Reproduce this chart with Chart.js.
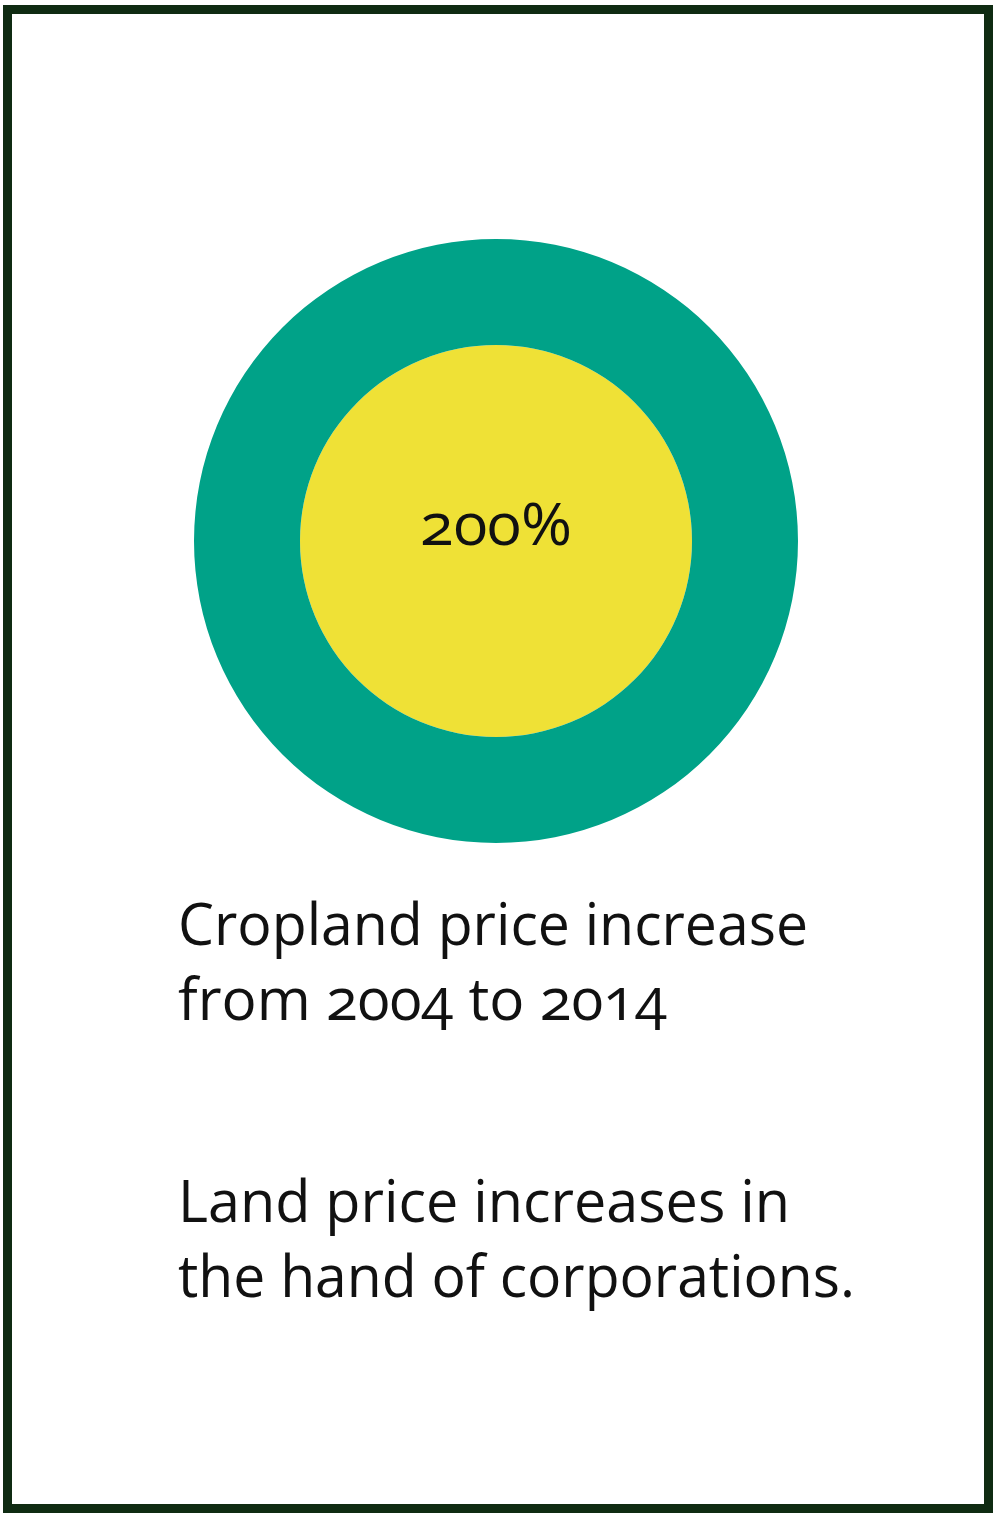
<!DOCTYPE html>
<html>
<head>
<meta charset="utf-8">
<script src="https://cdn.jsdelivr.net/npm/chart.js@4.4.1/dist/chart.umd.min.js"></script>
<style>
  html, body { margin: 0; padding: 0; background: #ffffff; }
  body { width: 1000px; height: 1521px; position: relative; overflow: hidden; }
  #frame { position: absolute; left: 3px; top: 5px; width: 972px; height: 1490px; border: 9px solid #0f2b12; }
  #chartBox { position: absolute; left: 194px; top: 239px; width: 604px; height: 604px; }
  .txt { position: absolute; left: 178px; white-space: nowrap; font-family: 'Open Sans', sans-serif;
         font-feature-settings: "onum" 1; font-size: 59px; line-height: 1; color: #111111; font-weight: 400;
         transform-origin: 0 0; }
  .mark { display: inline-block; width: 0; height: 0; vertical-align: baseline; }
</style>
</head>
<body>
<div id="frame"></div>
<div id="chartBox"><canvas id="c"></canvas></div>
<div class="txt" id="centerLabel"></div>
<div class="txt" id="l1"></div>
<div class="txt" id="l2"></div>
<div class="txt" id="l3"></div>
<div class="txt" id="l4"></div>
<script>
// ---- data ----
const categories = ['Cropland price increase 2004–2014'];
const increasePct = [200];
const outerRing = [200];
const captionLines = ['Cropland price increase', 'from 2004 to 2014'];
const noteLines = ['Land price increases in', 'the hand of corporations.'];

// ---- chart ----
const chart = new Chart(document.getElementById('c'), {
  type: 'doughnut',
  data: {
    labels: categories,
    datasets: [
      { data: outerRing, backgroundColor: ['#00a288'], borderWidth: 0, weight: 106, hoverOffset: 0, offset: 0 },
      { data: increasePct, backgroundColor: ['#efe136'], borderWidth: 0, weight: 196, hoverOffset: 0, offset: 0 }
    ]
  },
  options: {
    responsive: true,
    maintainAspectRatio: false,
    animation: false,
    cutout: 0,
    layout: { padding: 0 },
    events: [],
    plugins: { legend: { display: false }, tooltip: { enabled: false }, title: { display: false } }
  }
});

// ---- text placement ----
function place(id, text, baseline, targetWidth, centerX) {
  const el = document.getElementById(id);
  el.textContent = text;
  const m = document.createElement('span');
  m.className = 'mark';
  el.appendChild(m);
  el.style.top = '0px';
  el.style.transform = 'none';
  const w = el.getBoundingClientRect().width;
  const s = targetWidth / w;
  const base = m.getBoundingClientRect().top - el.getBoundingClientRect().top;
  el.style.top = (baseline - base) + 'px';
  el.style.transform = 'scaleX(' + s + ')';
  if (centerX !== undefined) {
    el.style.left = (centerX - targetWidth / 2) + 'px';
  }
}
document.fonts.ready.then(() => {
  place('centerLabel', increasePct[0] + '%', 545, 152, 496);
  place('l1', captionLines[0], 945, 630);
  place('l2', captionLines[1], 1020, 489);
  place('l3', noteLines[0], 1222, 612);
  place('l4', noteLines[1], 1297, 677);
});
</script>
</body>
</html>
